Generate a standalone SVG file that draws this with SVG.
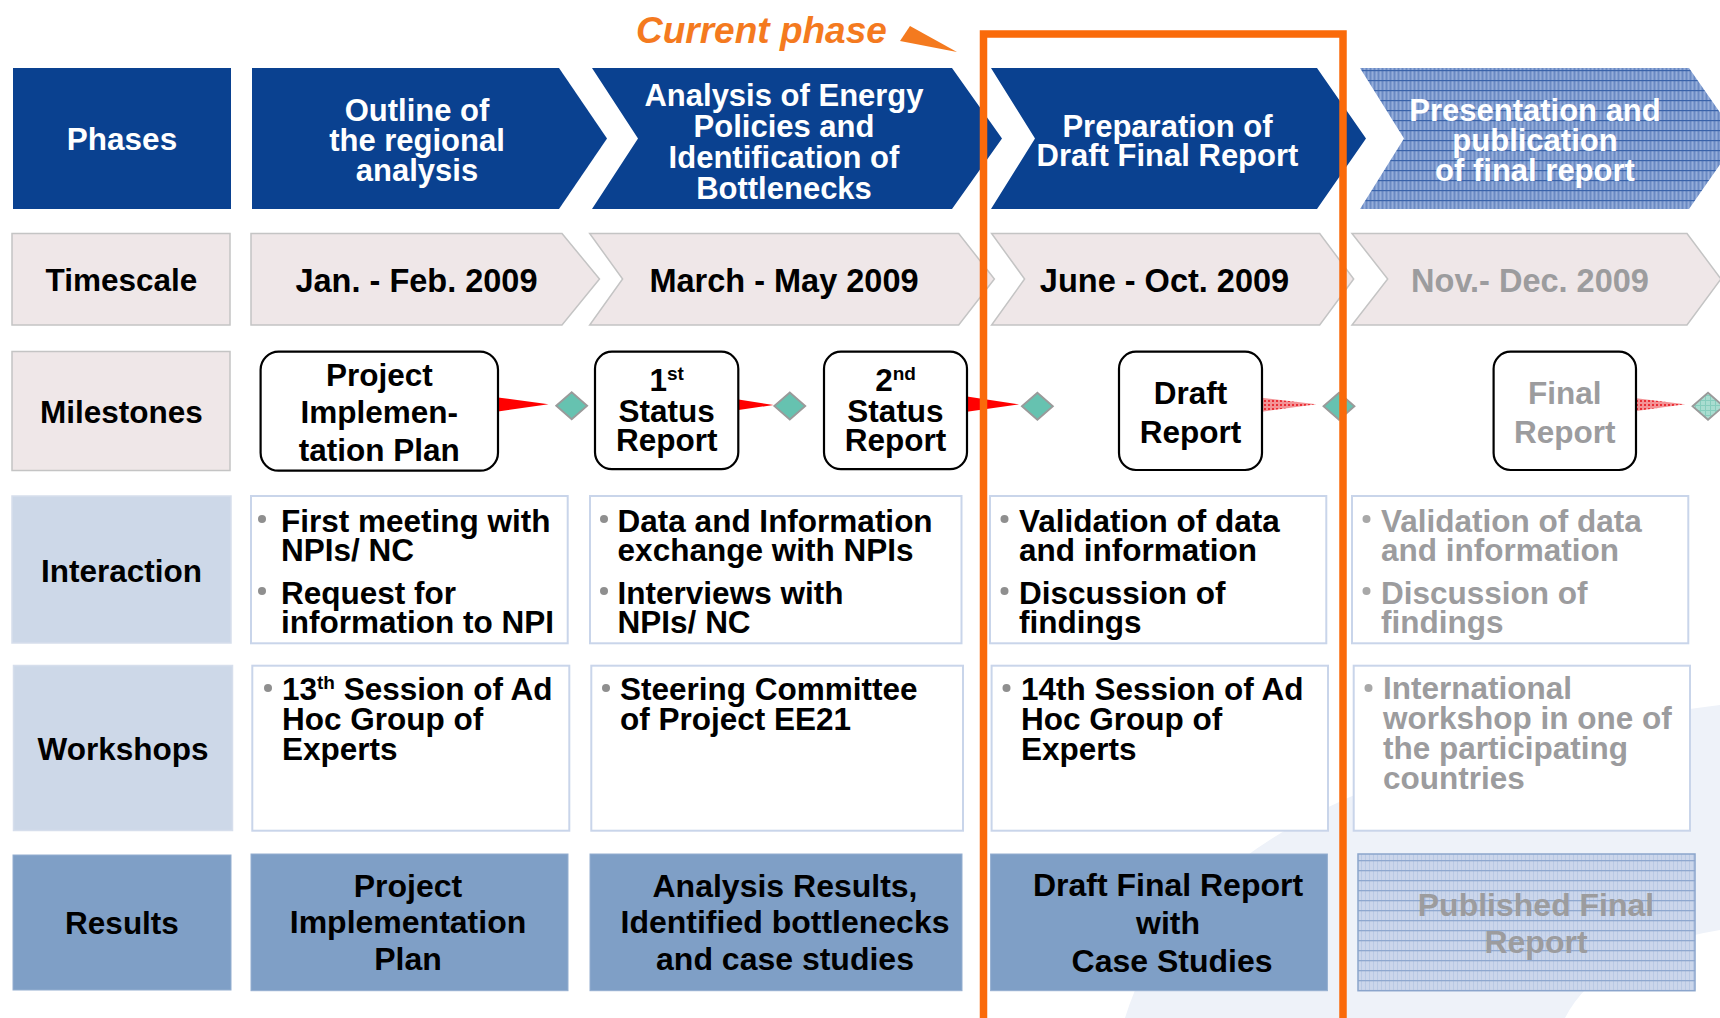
<svg xmlns="http://www.w3.org/2000/svg" width="1720" height="1018" viewBox="0 0 1720 1018">
<style>
text{font-family:"Liberation Sans",Arial,Helvetica,sans-serif;font-weight:bold;}
.lbl{font-size:31.5px;text-anchor:middle;fill:#000;}
.lblw{font-size:31.5px;text-anchor:middle;fill:#fff;}
.ph{font-size:31px;text-anchor:middle;fill:#fff;}
.ts{font-size:32.5px;text-anchor:middle;fill:#000;}
.ms{font-size:31.5px;text-anchor:middle;fill:#000;}
.bt{font-size:31.5px;fill:#000;}
.rs{font-size:32px;text-anchor:middle;fill:#000;}
.gray{fill:#9c9c9e;}
.sup{font-size:19px;}
.phase{fill:#0a4190;}
.tsc{fill:#efe7e8;stroke:#c4c4c4;stroke-width:1.5;}
.lab2{fill:#cdd8e8;stroke:#d6deec;stroke-width:1.5;}
.box{fill:#fff;stroke:#c9d5ea;stroke-width:2;}
.res{fill:#7f9fc6;stroke:#94aed0;stroke-width:1;}
.mbox{fill:#fff;stroke:#000;stroke-width:2.2;}
.wedge{fill:#ff0000;}
.dia{fill:#66c2b0;stroke:#9a9a9a;stroke-width:1.8;}
.bul{fill:#8f8f8f;}
.bulg{fill:#a8a8a8;}
</style>
<defs>
<pattern id="patPhase" width="4" height="10" patternUnits="userSpaceOnUse">
<rect width="4" height="10" fill="#7f9bcf"/>
<rect x="0" y="0" width="1" height="10" fill="#94add9"/>
<rect x="2" y="0" width="1" height="10" fill="#6a8ac3"/>
<rect x="0" y="0" width="4" height="1.2" fill="#3a63aa"/>
</pattern>
<pattern id="patRes" width="4" height="10" patternUnits="userSpaceOnUse">
<rect width="4" height="10" fill="#cbd6eb"/>
<rect x="1" y="0" width="1" height="10" fill="#b9c9e4"/>
<rect x="0" y="0" width="4" height="1.3" fill="#8fa8cf"/>
</pattern>
<pattern id="patRed" width="4" height="4" patternUnits="userSpaceOnUse">
<rect width="4" height="4" fill="#f39396"/>
<rect x="0" y="0" width="2" height="2" fill="#ea2f36"/>
</pattern>
<pattern id="patTeal" width="5" height="5" patternUnits="userSpaceOnUse">
<rect width="5" height="5" fill="#a9ddd0"/>
<rect x="0" y="0" width="1" height="5" fill="#86cdbd"/>
<rect x="0" y="0" width="5" height="1" fill="#86cdbd"/>
</pattern>
</defs>

<rect width="1720" height="1018" fill="#fff"/>
<g id="background">
<path d="M1125,1018 Q1200,770 1720,705 L1720,930 Q1600,950 1565,1018 Z" fill="#eef2f9"/>
</g>

<g id="labels">
<g id="lbl-phases"><rect x="13" y="68" width="218" height="141" class="phase"/><text x="122" y="150" class="lblw">Phases</text></g>
<g id="lbl-timescale"><rect x="12" y="233.5" width="218" height="91.5" class="tsc"/><text x="121.5" y="290.5" class="lbl">Timescale</text></g>
<g id="lbl-milestones"><rect x="12" y="351.5" width="218" height="119" class="tsc"/><text x="121.5" y="423" class="lbl">Milestones</text></g>
<g id="lbl-interaction"><rect x="12" y="496" width="219" height="147" class="lab2"/><text x="121.5" y="581.5" class="lbl">Interaction</text></g>
<g id="lbl-workshops"><rect x="13.5" y="665.5" width="219" height="165" class="lab2"/><text x="123" y="760" class="lbl">Workshops</text></g>
<g id="lbl-results"><rect x="13" y="855" width="218" height="135" class="res"/><text x="122" y="934" class="lbl">Results</text></g>
</g>

<g id="phases">
<g id="phase1"><polygon points="252,68 559,68 607,138.5 559,209 252,209" class="phase"/>
<text class="ph" x="417" y="120.5">Outline of</text><text class="ph" x="417" y="151">the regional</text><text class="ph" x="417" y="180.5">analysis</text></g>
<g id="phase2"><polygon points="592,68 952,68 1002,138.5 952,209 592,209 638,138.5" class="phase"/>
<text class="ph" x="784" y="106">Analysis of Energy</text><text class="ph" x="784" y="137">Policies and</text><text class="ph" x="784" y="168">Identification of</text><text class="ph" x="784" y="198.5">Bottlenecks</text></g>
<g id="phase3"><polygon points="991,68 1317,68 1366,138.5 1317,209 991,209 1035,138.5" class="phase"/>
<text class="ph" x="1167.5" y="136.5">Preparation of</text><text class="ph" x="1167.5" y="165.5">Draft Final Report</text></g>
<g id="phase4"><polygon points="1360,68 1689,68 1738,138.5 1689,209 1360,209 1404,138.5" fill="url(#patPhase)"/>
<text class="ph" x="1535" y="120.5">Presentation and</text><text class="ph" x="1535" y="151">publication</text><text class="ph" x="1535" y="181">of final report</text></g>
</g>

<g id="timescale">
<g id="ts1"><polygon points="251,233.5 562,233.5 599.5,279 562,325 251,325" class="tsc"/><text class="ts" x="416.5" y="291.5">Jan. - Feb. 2009</text></g>
<g id="ts2"><polygon points="589.7,233.5 958.7,233.5 994.4,279 958.7,325 589.7,325 622.6,279" class="tsc"/><text class="ts" x="784" y="291.5">March - May 2009</text></g>
<g id="ts3"><polygon points="991.6,233.5 1319.7,233.5 1353.7,279 1319.7,325 991.6,325 1024.6,279" class="tsc"/><text class="ts" x="1164.5" y="291.5">June - Oct. 2009</text></g>
<g id="ts4"><polygon points="1352,233.5 1687,233.5 1721,279 1687,325 1352,325 1387.7,279" class="tsc"/><text class="ts gray" x="1530" y="291.5">Nov.- Dec. 2009</text></g>
</g>

<g id="connectors">
<polygon points="498,397.5 498,411.5 548.5,404.3" class="wedge"/>
<polygon points="738.5,399.5 738.5,410 773.5,405" class="wedge"/>
<polygon points="967,396.5 967,411.7 1019,404.3" class="wedge"/>
<polygon points="1262,397.7 1262,411.7 1316.5,404.3" fill="url(#patRed)"/>
<polygon points="1636.5,398.3 1636.5,411 1685,404.3" fill="url(#patRed)"/>
</g>

<g id="milestones">
<g id="m1"><rect x="260.6" y="351.7" width="237.4" height="119" rx="18" class="mbox"/>
<text class="ms" x="379.3" y="385.5">Project</text><text class="ms" x="379.3" y="422.5">Implemen-</text><text class="ms" x="379.3" y="460.5">tation Plan</text></g>
<g id="d1"><polygon points="556.2,405.8 571.7,392.3 587.2,405.8 571.7,419.3" class="dia"/></g>
<g id="m2"><rect x="595" y="351.7" width="143.3" height="117.5" rx="17" class="mbox"/>
<text class="ms" x="666.7" y="391">1<tspan class="sup" dy="-11">st</tspan></text><text class="ms" x="666.7" y="422">Status</text><text class="ms" x="666.7" y="451">Report</text></g>
<g id="d2"><polygon points="774.3,406 789.8,392.5 805.3,406 789.8,419.5" class="dia"/></g>
<g id="m3"><rect x="824" y="351.7" width="143" height="117.5" rx="17" class="mbox"/>
<text class="ms" x="895.5" y="391">2<tspan class="sup" dy="-11">nd</tspan></text><text class="ms" x="895.5" y="422">Status</text><text class="ms" x="895.5" y="451">Report</text></g>
<g id="d3"><polygon points="1021.9,406.3 1037.4,392.8 1052.9,406.3 1037.4,419.8" class="dia"/></g>
<g id="m4"><rect x="1119" y="351.7" width="143" height="118.3" rx="17" class="mbox"/>
<text class="ms" x="1190.5" y="404">Draft</text><text class="ms" x="1190.5" y="442.5">Report</text></g>
<g id="d4"><polygon points="1323.5,406.3 1339,392.8 1354.5,406.3 1339,419.8" class="dia"/></g>
<g id="m5"><rect x="1493.6" y="351.7" width="142.4" height="118.3" rx="17" class="mbox"/>
<text class="ms gray" x="1564.8" y="404">Final</text><text class="ms gray" x="1564.8" y="442.5">Report</text></g>
<g id="d5"><polygon points="1692.5,406.3 1708,392.8 1723.5,406.3 1708,419.8" fill="url(#patTeal)" stroke="#9a9a9a" stroke-width="1.8"/></g>
</g>

<g id="interaction">
<g id="i1"><rect x="251" y="496" width="316.7" height="147.3" class="box"/>
<circle cx="262" cy="519" r="4" class="bul"/><circle cx="262" cy="591" r="4" class="bul"/>
<text class="bt" x="281" y="531.7">First meeting with</text><text class="bt" x="281" y="560.5">NPIs/ NC</text>
<text class="bt" x="281" y="603.5">Request for</text><text class="bt" x="281" y="633">information to NPI</text></g>
<g id="i2"><rect x="590" y="496" width="371.5" height="147.3" class="box"/>
<circle cx="604" cy="519" r="4" class="bul"/><circle cx="604" cy="591" r="4" class="bul"/>
<text class="bt" x="617.6" y="531.7">Data and Information</text><text class="bt" x="617.6" y="560.5">exchange with NPIs</text>
<text class="bt" x="617.6" y="603.5">Interviews with</text><text class="bt" x="617.6" y="633">NPIs/ NC</text></g>
<g id="i3"><rect x="990" y="496" width="336.3" height="147.3" class="box"/>
<circle cx="1004.5" cy="519" r="4" class="bul"/><circle cx="1004.5" cy="591" r="4" class="bul"/>
<text class="bt" x="1019" y="531.7">Validation of data</text><text class="bt" x="1019" y="560.5">and information</text>
<text class="bt" x="1019" y="603.5">Discussion of</text><text class="bt" x="1019" y="633">findings</text></g>
<g id="i4"><rect x="1352" y="496" width="336.3" height="147.3" class="box"/>
<circle cx="1366.5" cy="519" r="4" class="bulg"/><circle cx="1366.5" cy="591" r="4" class="bulg"/>
<text class="bt gray" x="1381" y="531.7">Validation of data</text><text class="bt gray" x="1381" y="560.5">and information</text>
<text class="bt gray" x="1381" y="603.5">Discussion of</text><text class="bt gray" x="1381" y="633">findings</text></g>
</g>

<g id="workshops">
<g id="w1"><rect x="252.3" y="665.7" width="317" height="165" class="box"/>
<circle cx="268" cy="688" r="4" class="bul"/>
<text class="bt" x="282" y="700">13<tspan class="sup" dy="-11">th</tspan><tspan dy="11"> Session of Ad</tspan></text>
<text class="bt" x="282" y="730">Hoc Group of</text><text class="bt" x="282" y="760">Experts</text></g>
<g id="w2"><rect x="591.3" y="665.7" width="371.7" height="165" class="box"/>
<circle cx="606" cy="688" r="4" class="bul"/>
<text class="bt" x="620" y="700">Steering Committee</text><text class="bt" x="620" y="730">of Project EE21</text></g>
<g id="w3"><rect x="991.6" y="665.7" width="336.4" height="165" class="box"/>
<circle cx="1006.5" cy="688" r="4" class="bul"/>
<text class="bt" x="1021" y="700">14th Session of Ad</text><text class="bt" x="1021" y="730">Hoc Group of</text><text class="bt" x="1021" y="760">Experts</text></g>
<g id="w4"><rect x="1353.7" y="665.7" width="336.3" height="165" class="box"/>
<circle cx="1368.5" cy="688" r="4" class="bulg"/>
<text class="bt gray" x="1383" y="699">International</text><text class="bt gray" x="1383" y="729">workshop in one of</text>
<text class="bt gray" x="1383" y="759">the participating</text><text class="bt gray" x="1383" y="789">countries</text></g>
</g>

<g id="results">
<g id="r1"><rect x="251" y="854" width="317" height="136.7" class="res"/>
<text class="rs" x="408" y="896.7">Project</text><text class="rs" x="408" y="933.3">Implementation</text><text class="rs" x="408" y="970">Plan</text></g>
<g id="r2"><rect x="590" y="854" width="372" height="136.7" class="res"/>
<text class="rs" x="785" y="896.7">Analysis Results,</text><text class="rs" x="785" y="933.3">Identified bottlenecks</text><text class="rs" x="785" y="970">and case studies</text></g>
<g id="r3"><rect x="990.6" y="854" width="336.8" height="136.7" class="res"/>
<text class="rs" x="1168" y="896">Draft Final Report</text><text class="rs" x="1168" y="934">with</text><text class="rs" x="1172" y="972">Case Studies</text></g>
<g id="r4"><rect x="1358" y="854" width="337" height="136.7" fill="url(#patRes)" stroke="#8ba5cc" stroke-width="1.5"/>
<text class="rs gray" x="1536" y="916">Published Final</text><text class="rs gray" x="1536" y="953">Report</text></g>
</g>

<g id="current-phase">
<rect x="983.5" y="34" width="359.5" height="1000" fill="none" stroke="#fa6a0a" stroke-width="7.5"/>
<text x="636" y="43" font-size="37" font-style="italic" fill="#f47a1f">Current phase</text>
<polygon points="910,26 900,41 957,52" fill="#f47a1f"/>
</g>
</svg>
